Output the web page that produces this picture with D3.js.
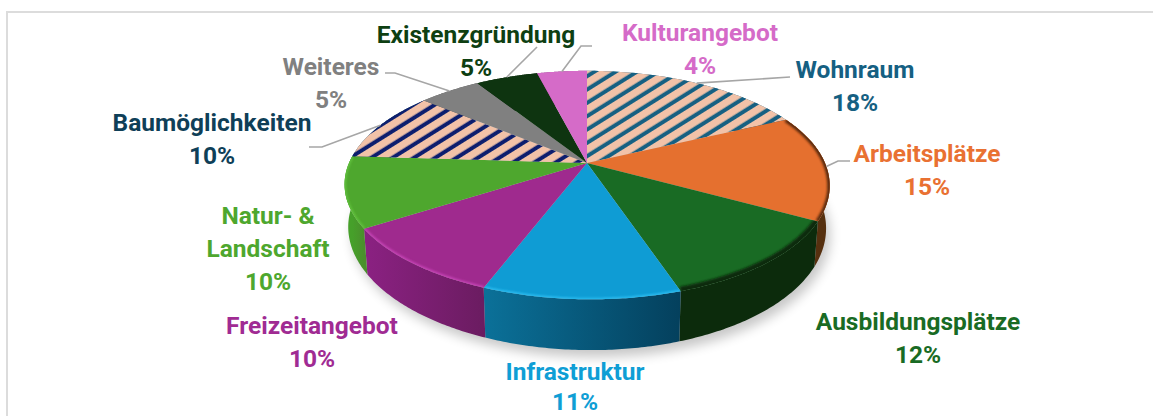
<!DOCTYPE html>
<html><head><meta charset="utf-8">
<style>html,body{margin:0;padding:0;background:#fff}svg{display:block}
text{font-family:Roboto,sans-serif;font-weight:700;font-size:24.5px;text-anchor:middle;dominant-baseline:central}</style>
<script src="https://cdn.jsdelivr.net/npm/d3@7/dist/d3.min.js"></script>
</head><body><svg id="c" width="1153" height="416"></svg>
<script>
const categories=["Wohnraum","Arbeitsplätze","Ausbildungsplätze","Infrastruktur","Freizeitangebot","Natur- &\nLandschaft","Baumöglichkeiten","Weiteres","Existenzgründung","Kulturangebot"];
const values=[18,15,12,11,10,10,10,5,5,4];
const textColors=["#156082","#e97132","#196b24","#0f9ed5","#a02b93","#4ea72e","#0f3f58","#808080","#0e3f12","#d56bc8"];
const topFills=["url(#hatchA)","#e5702f","#196b24","#0f9cd4","#9f2a8e","#4ea72e","url(#hatchB)","#808080","#0e3410","#d56bc8"];
const sideFrom=["#156082","#7d3b15","#0c2b0c","#0b7199","#8b2182","#46a02a","#0f3f58","#555","#0a240b","#8f4786"];
const sideTo=["#156082","#56300f","#0c2b0c","#04405d","#6b1c61","#4a8f2c","#0f3f58","#555","#0a240b","#8f4786"];
const rimColors=["none","#5a2c10","#0c2b0c","#2bbcf0","#c845b8","#62c23e","none","none","none","none"];
const rimWidths=[0,5,9,3,3,3,0,0,0,0];
const labelX=[855,927,918,575,312,268,212,331,476,700];
const labelY=[69,153,321,371,325,215,122,66,34,32];
const lineSteps=[33,33,33,30,33,33,33,33,33,33];
const elbows=[[[790,77]],[[838,161],[850,161]],[],[],[],[],[[322,147],[309,147]],[[395,73],[385,73]],[[537,47]],[[581,46],[592,46]]];

const svg=d3.select("#c"),defs=svg.append("defs");
const cx=587,cy=163,A=110,B=238,K=0.193,D=41;
function proj(t,drop){const wx=Math.sin(t),wy=-Math.cos(t),d=1-K*wy;
  const s=drop?0.985:1,shear=wy>0?4*wy*wy:0;
  return [cx+s*B*wx/d+shear, cy+A*wy/d+(drop?D/d:0)];}
const pie=d3.pie().sort(null).value(d=>d).startAngle(0).endAngle(2*Math.PI);
const arcs=pie(values);
const line=d3.line();
const samples=(a,b)=>d3.range(0,61).map(i=>a+(b-a)*i/60);

function hatch(id,col){const p=defs.append("pattern").attr("id",id).attr("patternUnits","userSpaceOnUse")
  .attr("width",20).attr("height",11.3).attr("patternTransform","translate(587,163) rotate(-32)");
  p.append("rect").attr("width",20).attr("height",11.3).attr("fill","#f2c2a8");
  p.append("rect").attr("y",3.5).attr("width",20).attr("height",4).attr("fill",col);}
hatch("hatchA","#156082");hatch("hatchB","#0a1f6e");
const blur=(id,s)=>defs.append("filter").attr("id",id).attr("x","-20%").attr("y","-20%").attr("width","140%").attr("height","140%")
  .append("feGaussianBlur").attr("stdDeviation",s);
blur("sh",6);blur("rb",1.3);blur("soft",.45);

// frame
svg.append("path").attr("d","M7 416V12H1153").attr("fill","none").attr("stroke","#dcdcdc").attr("stroke-width",2);

// shadow
svg.append("path").attr("d",line(d3.range(0,121).map(i=>proj(i/120*2*Math.PI,true)))+"Z")
  .attr("transform","translate(4,7)").attr("fill","#000").attr("opacity",.22).attr("filter","url(#sh)");

// sides
arcs.forEach((a,i)=>{
  const p0=proj(a.startAngle),p1=proj(a.endAngle);
  const g=defs.append("linearGradient").attr("id","sg"+i).attr("gradientUnits","userSpaceOnUse")
    .attr("x1",Math.min(p0[0],p1[0])).attr("x2",Math.max(p0[0],p1[0])).attr("y1",0).attr("y2",0);
  g.append("stop").attr("offset",0).attr("stop-color",sideFrom[i]);
  g.append("stop").attr("offset",1).attr("stop-color",sideTo[i]);
  const t=samples(a.startAngle,a.endAngle);
  const pts=t.map(v=>proj(v,false)).concat(t.slice().reverse().map(v=>proj(v,true)));
  svg.append("path").attr("d",line(pts)+"Z").attr("fill",`url(#sg${i})`);
});

// top faces
arcs.forEach((a,i)=>{
  const t=samples(a.startAngle,a.endAngle);
  const pts=[[cx,cy]].concat(t.map(v=>proj(v,false)));
  const d=line(pts)+"Z";
  const face=svg.append("path").attr("d",d).attr("fill",topFills[i]);
  if(String(topFills[i]).startsWith("url"))face.attr("filter","url(#soft)");
  defs.append("clipPath").attr("id","cl"+i).append("path").attr("d",d);
  if(rimWidths[i]){
    svg.append("g").attr("clip-path",`url(#cl${i})`).append("path").attr("d",line(t.map(v=>proj(v,false))))
     .attr("fill","none").attr("stroke",rimColors[i]).attr("stroke-width",rimWidths[i]).attr("filter","url(#rb)");
  }
});

// leaders
arcs.forEach((a,i)=>{
  if(!elbows[i].length)return;
  const m=(a.startAngle+a.endAngle)/2;
  svg.append("path").attr("d",line([proj(m,false)].concat(elbows[i]))).attr("fill","none").attr("stroke","#a6a6a6").attr("stroke-width",1.6);
});

// labels
categories.forEach((c,i)=>{
  const lines=c.split("\n").concat([values[i]+"%"]);
  lines.forEach((s,j)=>svg.append("text").attr("x",labelX[i]).attr("y",labelY[i]+j*lineSteps[i]).attr("fill",textColors[i]).text(s));
});
</script></body></html>
